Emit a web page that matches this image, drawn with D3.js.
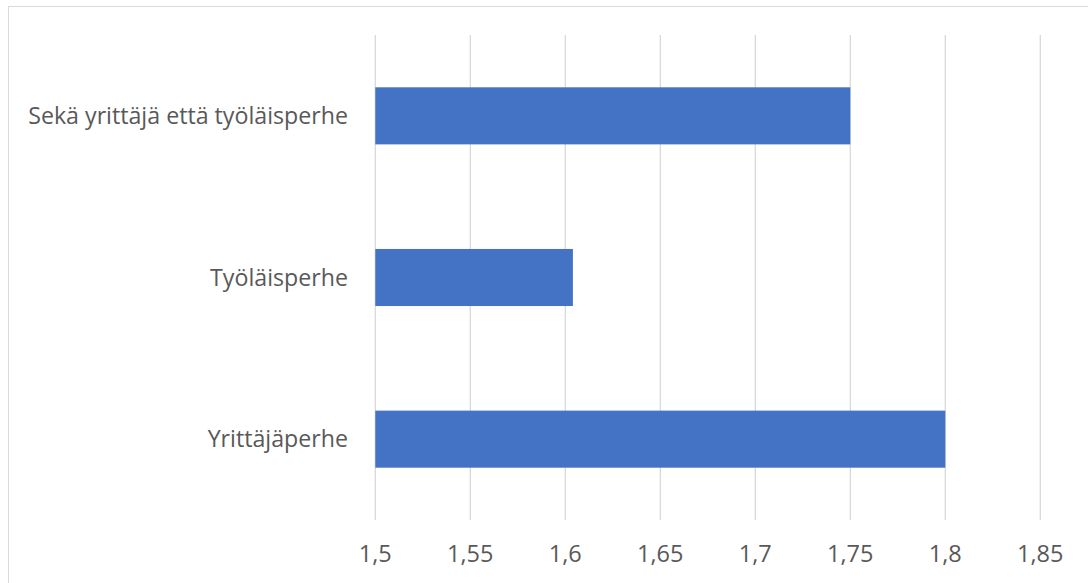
<!DOCTYPE html>
<html><head><meta charset="utf-8">
<script src="https://cdn.jsdelivr.net/npm/d3@7"></script>
<style>body{margin:0;background:#fff}svg{display:block}</style>
</head><body>
<script>
const categories = ["Sekä yrittäjä että työläisperhe", "Työläisperhe", "Yrittäjäperhe"];
const values = [1.75, 1.604, 1.80];
const tickValues = [1.5, 1.55, 1.6, 1.65, 1.7, 1.75, 1.8, 1.85];

(function () {
const W = 1088, H = 583;
const svg = d3.select("body").append("svg").attr("width", W).attr("height", H);
svg.append("rect").attr("x", 8.5).attr("y", 6.5).attr("width", W + 10).attr("height", H + 10)
  .attr("fill", "#fff").attr("stroke", "#d9d9d9").attr("stroke-width", 1);

const pLeft = 375.3, pTop = 35, pBottom = 520;
const x = d3.scaleLinear().domain([1.5, 1.85]).range([pLeft, pLeft + 0.35 * 1900]);
const y = d3.scaleBand().domain(categories).range([pTop, pBottom]).paddingInner(0.647).paddingOuter(0.3235);

const font = "'Open Sans', sans-serif";

svg.append("g").selectAll("line").data(tickValues).join("line")
  .attr("x1", d => x(d)).attr("x2", d => x(d)).attr("y1", pTop).attr("y2", pBottom)
  .attr("stroke", "#d9d9d9").attr("stroke-width", 1.3);

svg.append("g").selectAll("rect").data(values).join("rect")
  .attr("x", x(1.5)).attr("y", (d, i) => y(categories[i]))
  .attr("width", d => x(d) - x(1.5)).attr("height", y.bandwidth())
  .attr("fill", "#4472C4");

const fmt = d => String(d).replace(".", ",");
svg.append("g").selectAll("text").data(tickValues).join("text")
  .attr("x", d => x(d)).attr("y", 554).attr("dy", "0.35em")
  .attr("text-anchor", "middle").attr("font-family", font).attr("font-size", 23.5)
  .attr("fill", "#595959").text(fmt);

svg.append("g").selectAll("text").data(categories).join("text")
  .attr("x", 348).attr("y", d => y(d) + y.bandwidth() / 2).attr("dy", "0.35em")
  .attr("text-anchor", "end").attr("font-family", font).attr("font-size", 23.2)
  .attr("fill", "#595959").text(d => d);
})();
</script>
</body></html>
